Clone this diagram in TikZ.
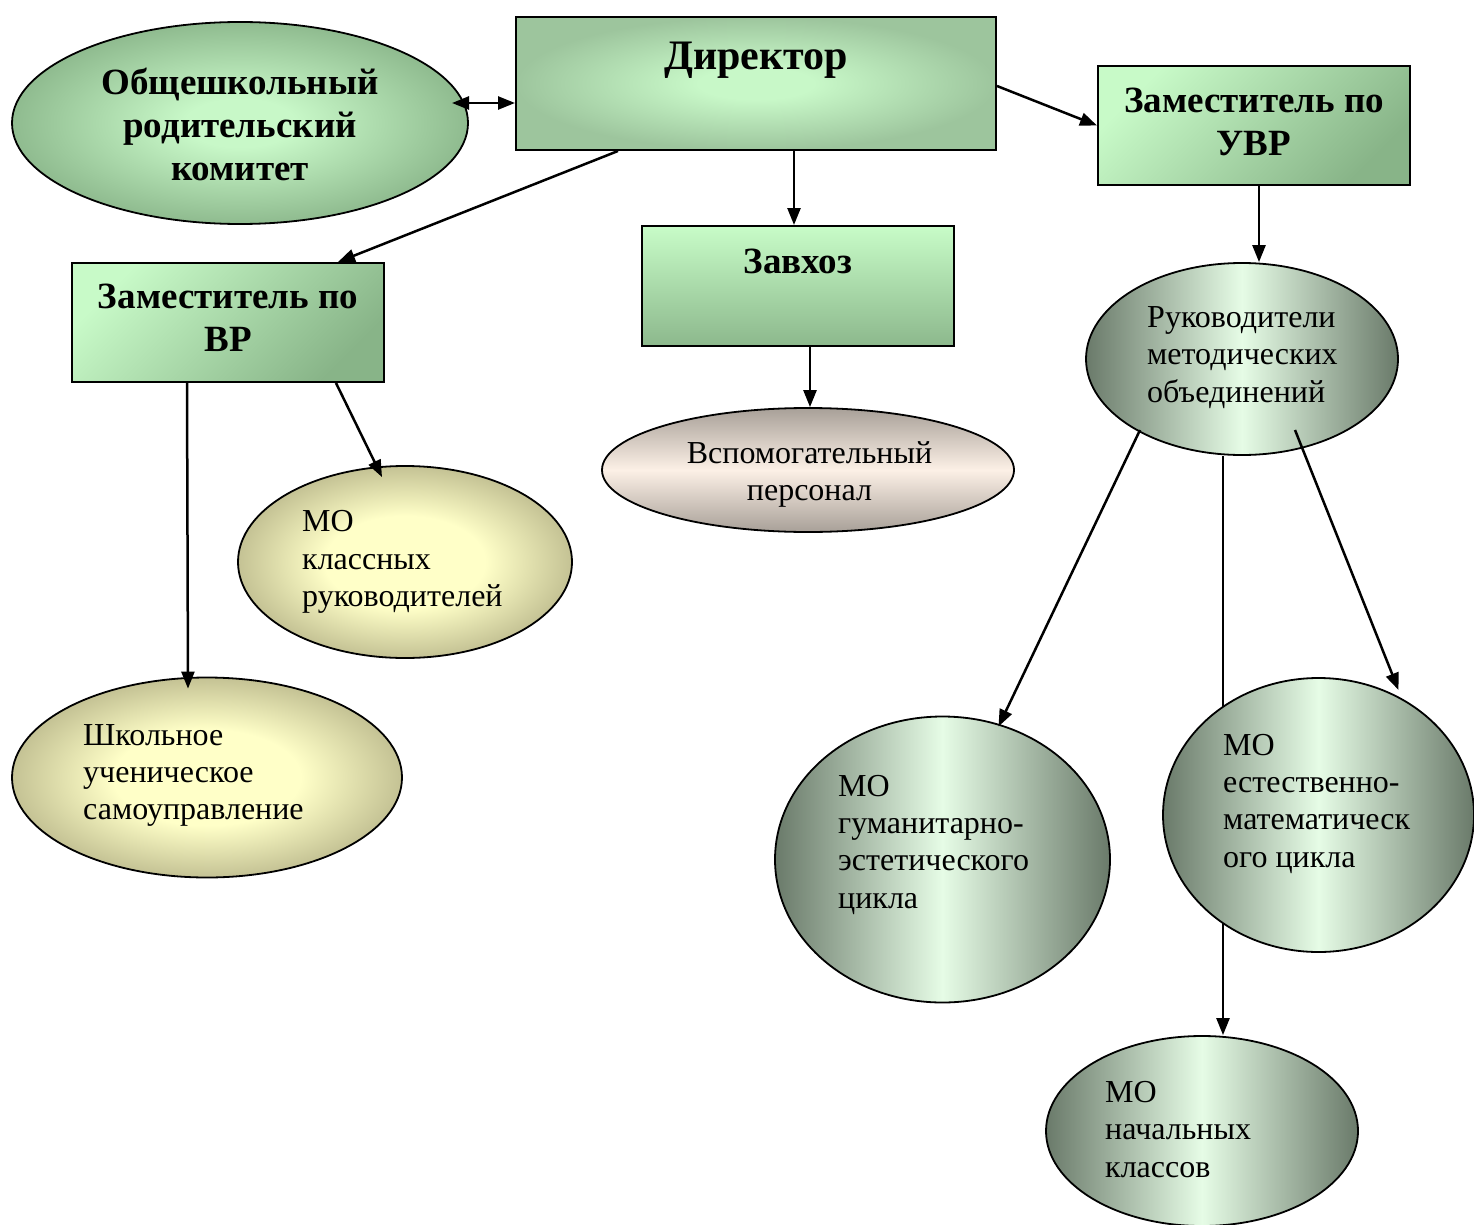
\documentclass[tikz,border=0pt]{standalone}
\usepackage{fontspec}
\setmainfont{Liberation Serif}
\usetikzlibrary{shapes.geometric,arrows.meta,calc}
\definecolor{dirIn}{HTML}{C8F8C8}
\definecolor{dirOut}{HTML}{9DC59D}
\definecolor{parOut}{HTML}{8FBB8F}
\definecolor{zamLight}{HTML}{C8FAC8}
\definecolor{zamDark}{HTML}{88B488}
\definecolor{zavTop}{HTML}{C8FCC8}
\definecolor{zavBot}{HTML}{8CB88C}
\definecolor{vspEdge}{HTML}{A8A098}
\definecolor{vspMid}{HTML}{FCF0E6}
\definecolor{rukEdge}{HTML}{6A7A6A}
\definecolor{rukMid}{HTML}{E6FCE6}
\definecolor{yelIn}{HTML}{FFFFC8}
\definecolor{yelOut}{HTML}{C4C294}
\pgfdeclareradialshading{yelrad}{\pgfpoint{0bp}{0bp}}{color(0bp)=(yelIn); color(12bp)=(yelIn); color(25bp)=(yelOut); color(50bp)=(yelOut)}
\pgfdeclareradialshading{dirrad}{\pgfpoint{0bp}{0bp}}{color(0bp)=(dirIn); color(6bp)=(dirIn); color(25bp)=(dirOut); color(50bp)=(dirOut)}
\pgfdeclareradialshading{parrad}{\pgfpoint{0bp}{0bp}}{color(0bp)=(dirIn); color(6bp)=(dirIn); color(25bp)=(parOut); color(50bp)=(parOut)}
\begin{document}
\begin{tikzpicture}[x=1pt,y=-1pt,
  box/.style={draw=black, line width=2pt, rectangle, inner sep=0pt},
  oval/.style={draw=black, line width=1.8pt, ellipse, inner sep=0pt},
  zamshade/.style={top color=zamLight, bottom color=zamDark, shading angle=45},
  grayband/.style={left color=rukEdge, right color=rukEdge, middle color=rukMid},
  yellowrad/.style={shading=yelrad},
  bigbold/.style={font=\fontsize{42}{48}\selectfont\bfseries, inner sep=0pt},
  boldtxt/.style={font=\fontsize{37}{43}\selectfont\bfseries, inner sep=0pt, align=center},
  plaintxt/.style={font=\fontsize{32}{37.3}\selectfont, inner sep=0pt, align=left, anchor=north west},
  arr/.style={line width=2.5pt, -{Triangle[length=17pt,width=13pt]}},
  dblarr/.style={line width=2.5pt, {Triangle[length=17pt,width=13pt]}-{Triangle[length=17pt,width=13pt]}}
]
\useasboundingbox (0,0) rectangle (1474,1225);
\fill[white] (0,0) rectangle (1474,1225);

% shapes
\node[box, shading=dirrad, minimum width=480pt, minimum height=133pt] (dir) at (756,83.5) {};
\node[oval, shading=parrad, minimum width=456pt, minimum height=202pt] (par) at (240,123) {};
\node[box, zamshade, minimum width=312pt, minimum height=119pt] (uvr) at (1254,125.5) {};
\node[box, zamshade, minimum width=312pt, minimum height=119pt] (vr) at (228,322.5) {};
\node[box, top color=zavTop, bottom color=zavBot, minimum width=312pt, minimum height=120pt] (zav) at (798,286) {};
\node[oval, top color=vspEdge, bottom color=vspEdge, middle color=vspMid, minimum width=412pt, minimum height=124pt] (vsp) at (808,470) {};
\node[oval, grayband, minimum width=312pt, minimum height=192pt] (ruk) at (1242,359) {};
\node[oval, yellowrad, minimum width=334pt, minimum height=192pt] (mok) at (405,562) {};
\node[oval, yellowrad, minimum width=390pt, minimum height=200pt] (shk) at (207,777.5) {};
\node[oval, grayband, minimum width=335pt, minimum height=286pt] (gum) at (942.5,859.5) {};
\node[oval, grayband, minimum width=312pt, minimum height=190pt] (nach) at (1202,1131) {};

% connector passing behind the MO est ellipse
\draw[arr] ($(ruk.south)+(-19,0)$) -- ($(nach.north)+(21,0)$);

\node[oval, grayband, minimum width=311pt, minimum height=274pt] (est) at (1318.5,815) {};

% texts
\node[bigbold, anchor=base] (dirt) at (756,70) {Директор};
\node[boldtxt, anchor=north] (part) at (240,68) {Общешкольный\\родительский\\комитет};
\node[boldtxt, anchor=north] (uvrt) at (1254,87.5) {Заместитель по\\УВР};
\node[boldtxt, anchor=north] (vrt) at (228,284) {Заместитель по\\ВР};
\node[boldtxt, anchor=base] (zavt) at (798,273) {Завхоз};
\node[plaintxt, anchor=north, align=center] (vspt) at (809.5,441.5) {Вспомогательный\\персонал};
\node[plaintxt] (rukt) at (1147,306.5) {Руководители\\методических\\объединений};
\node[plaintxt] (mokt) at (302,510.4) {МО\\классных\\руководителей};
\node[plaintxt] (shkt) at (83,724) {Школьное\\ученическое\\самоуправление};
\node[plaintxt] (gumt) at (838,775) {МО\\гуманитарно-\\эстетического\\цикла};
\node[plaintxt] (estt) at (1223,734) {МО\\естественно-\\математическ\\ого цикла};
\node[plaintxt] (nacht) at (1105,1081) {МО\\начальных\\классов};

% connectors
\draw[dblarr] ($(par.center)+(212,-20)$) -- ($(dir.west)+(0,19.5)$);
\draw[arr] ($(dir.east)+(0,2.5)$) -- (uvr.west);
\draw[arr] ($(dir.south)+(-138,0)$) -- ($(vr.north)+(110,0)$);
\draw[arr] ($(dir.south)+(38,0)$) -- ($(zav.north)+(-4,0)$);
\draw[arr] ($(zav.south)+(12,0)$) -- ($(vsp.north)+(2,0)$);
\draw[arr] ($(uvr.south)+(5,0)$) -- ($(ruk.north)+(17,0)$);
\draw[arr] ($(vr.south)+(-41,0)$) -- ($(shk.north)+(-19,12)$);
\draw[arr] ($(vr.south)+(108,0)$) -- ($(mok.north)+(-23,12)$);
\draw[arr] ($(ruk.center)+(-102,71)$) -- ($(gum.center)+(56,-133)$);
\draw[arr] ($(ruk.center)+(53,71)$) -- ($(est.center)+(80,-125)$);
\end{tikzpicture}
\end{document}
